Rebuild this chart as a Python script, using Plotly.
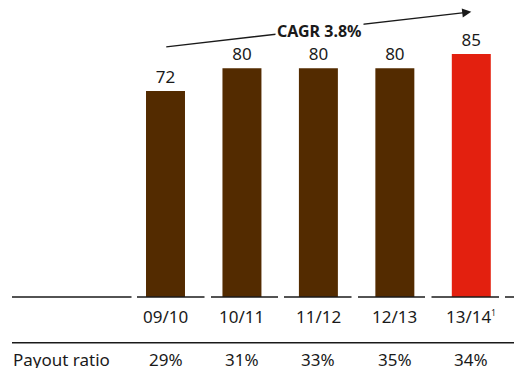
import plotly.graph_objects as go

# Dividend per share by financial year
years = ["09/10", "10/11", "11/12", "12/13",
         "13/14<sup><span style='font-size:8px'>1</span></sup>"]
dividend = [72, 80, 80, 80, 85]
payout = ["29%", "31%", "33%", "35%", "34%"]
bar_colors = ["#532B00", "#532B00", "#532B00", "#532B00", "#E3200F"]
cagr_label = "CAGR 3.8%"
row_label = "Payout ratio"

W, H = 514, 368
FONT = "Noto Sans"
INK = "#1a1a1a"

x_pos = list(range(len(years)))

fig = go.Figure(
    go.Bar(
        x=x_pos,
        y=dividend,
        marker=dict(color=bar_colors, line=dict(width=0)),
        width=0.51,
        text=[str(v) for v in dividend],
        textposition="outside",
        textfont=dict(family=FONT, size=17, color=INK),
        cliponaxis=False,
        hoverinfo="skip",
    )
)

# broken baseline under the bars (pixel extents)
segments = [(12, 131.5), (137, 204.5), (211, 278), (284, 351.5),
            (358, 425), (431.5, 499), (505, 514)]
shapes = []
for x0, x1 in segments:
    shapes.append(dict(type="line", xref="paper", yref="y",
                       x0=x0 / W, x1=x1 / W, y0=0, y1=0,
                       line=dict(color=INK, width=1.5)))
# rule above the payout ratio row
shapes.append(dict(type="line", xref="paper", yref="paper",
                   x0=12 / W, x1=1, y0=1 - 342.7 / H, y1=1 - 342.7 / H,
                   line=dict(color=INK, width=1.5)))

annotations = []
for i, (lab, p) in enumerate(zip(years, payout)):
    annotations.append(dict(x=i, y=1 - 316 / H, xref="x", yref="paper",
                            yanchor="middle", text=lab, showarrow=False,
                            font=dict(family=FONT, size=17, color=INK)))
    annotations.append(dict(x=i, y=1 - 359 / H, xref="x", yref="paper",
                            yanchor="middle", text=p, showarrow=False,
                            font=dict(family=FONT, size=17, color=INK)))
annotations.append(dict(x=11 / W, y=1 - 359 / H, xref="paper", yref="paper",
                        xanchor="left", yanchor="middle", text=row_label,
                        showarrow=False,
                        font=dict(family=FONT, size=17, color=INK)))

# growth arrow across the bars
annotations.append(dict(x=4.0, y=99.7, ax=-0.01, ay=87.4,
                        xref="x", yref="y", axref="x", ayref="y",
                        text="", showarrow=True, arrowhead=2, arrowsize=1.3,
                        arrowwidth=1.4, arrowcolor=INK, standoff=0))
annotations.append(dict(x=2.02, y=92.9, xref="x", yref="y",
                        text="<b>" + cagr_label + "</b>", showarrow=False,
                        bgcolor="white", borderpad=1,
                        font=dict(family=FONT, size=16, color=INK)))

fig.update_layout(
    width=W, height=H,
    margin=dict(l=0, r=0, t=0, b=0),
    paper_bgcolor="white", plot_bgcolor="white",
    showlegend=False,
    xaxis=dict(range=[-165.5 / 76.45, (W - 165.5) / 76.45], visible=False,
               fixedrange=True),
    yaxis=dict(range=[-(H - 297) / 2.86, 297 / 2.86], visible=False,
               fixedrange=True),
    shapes=shapes,
    annotations=annotations,
)

fig.write_html("out.html")
